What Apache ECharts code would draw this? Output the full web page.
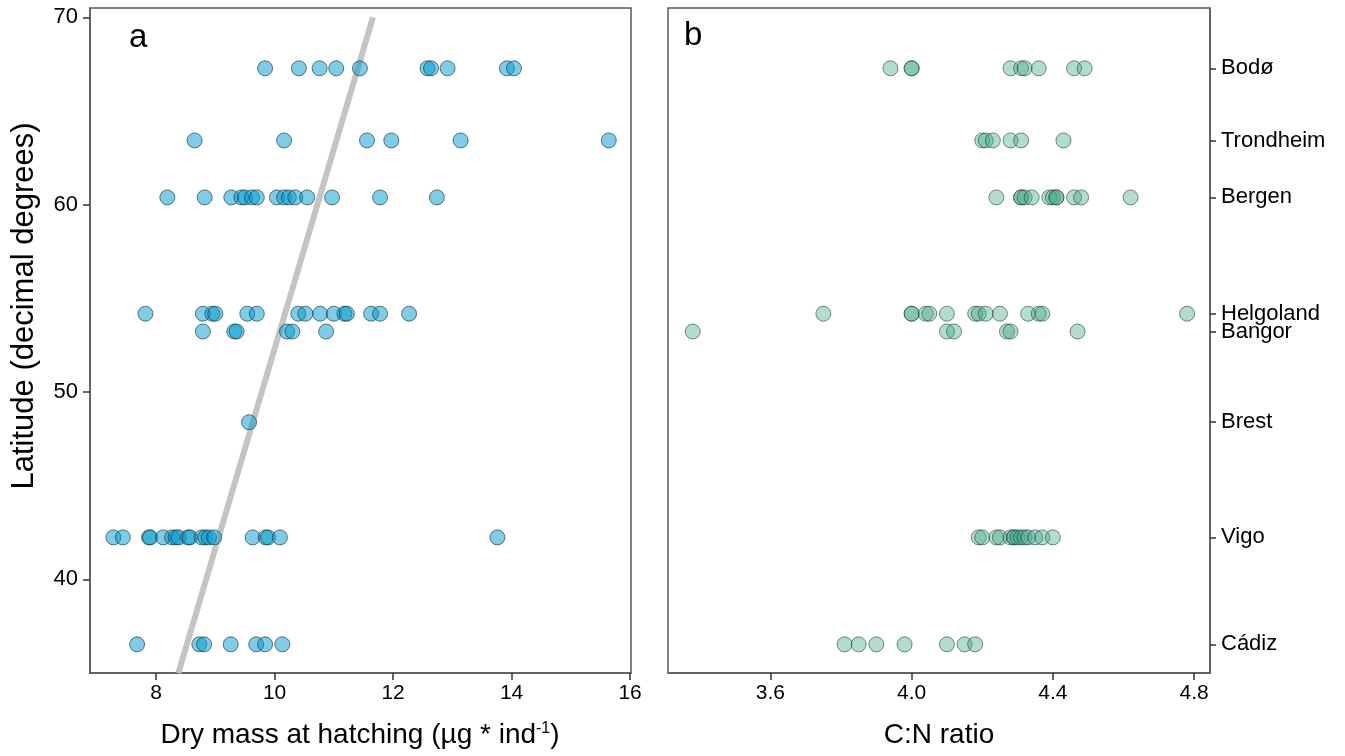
<!DOCTYPE html>
<html><head><meta charset="utf-8">
<script src="https://cdn.jsdelivr.net/npm/echarts@6/dist/echarts.min.js"></script>
<style>html,body{margin:0;padding:0;background:#fff}#c{width:1345px;height:756px}</style>
</head><body><div id="c"></div>
<script>
// ---- data ----
const sites = ['Cádiz', 'Vigo', 'Brest', 'Bangor', 'Helgoland', 'Bergen', 'Trondheim', 'Bodø'];
const siteLat = [36.53, 42.24, 48.39, 53.23, 54.18, 60.39, 63.43, 67.28];
const latTicks = [40, 50, 60, 70];
const dryTicks = [8, 10, 12, 14, 16];
const cnTicks = [3.6, 4.0, 4.4, 4.8];

// panel a: dry mass at hatching per site
const dryCadiz = [7.68, 8.73, 8.81, 9.26, 9.69, 9.84, 10.13];
const dryVigo = [7.28, 7.44, 7.88, 7.90, 8.12, 8.27, 8.33, 8.38, 8.54, 8.57, 8.77, 8.83, 8.89, 8.98, 9.63, 9.85, 9.89, 10.09, 13.76];
const dryBrest = [9.57];
const dryBangor = [8.79, 9.32, 9.36, 10.21, 10.30, 10.87];
const dryHelgoland = [7.82, 8.79, 8.95, 9.00, 9.54, 9.70, 10.40, 10.52, 10.77, 11.00, 11.18, 11.22, 11.63, 11.78, 12.27];
const dryBergen = [8.19, 8.82, 9.27, 9.44, 9.50, 9.62, 9.70, 10.04, 10.16, 10.24, 10.35, 10.55, 10.97, 11.78, 12.74];
const dryTrondheim = [8.65, 10.16, 11.56, 11.97, 13.14, 15.64];
const dryBodo = [9.84, 10.41, 10.76, 11.04, 11.44, 12.58, 12.64, 12.92, 13.92, 14.04];

// panel b: C:N ratio per site (no Brest data)
const cnCadiz = [3.81, 3.85, 3.90, 3.98, 4.10, 4.15, 4.18];
const cnVigo = [4.19, 4.20, 4.24, 4.25, 4.28, 4.29, 4.29, 4.30, 4.31, 4.32, 4.33, 4.35, 4.37, 4.40];
const cnBrest = [];
const cnBangor = [3.38, 4.10, 4.12, 4.27, 4.28, 4.47];
const cnHelgoland = [3.75, 4.00, 4.00, 4.04, 4.05, 4.10, 4.18, 4.19, 4.21, 4.25, 4.33, 4.36, 4.37, 4.78];
const cnBergen = [4.24, 4.31, 4.31, 4.32, 4.34, 4.39, 4.40, 4.41, 4.41, 4.46, 4.48, 4.62];
const cnTrondheim = [4.20, 4.21, 4.23, 4.28, 4.31, 4.43];
const cnBodo = [3.94, 4.00, 4.00, 4.28, 4.31, 4.32, 4.36, 4.46, 4.49];

// fitted line (panel a)
const trendDry = [8.376, 11.66];
const trendLat = [35, 70];

// ---- build ----
const dryBySite = [dryCadiz, dryVigo, dryBrest, dryBangor, dryHelgoland, dryBergen, dryTrondheim, dryBodo];
const cnBySite = [cnCadiz, cnVigo, cnBrest, cnBangor, cnHelgoland, cnBergen, cnTrondheim, cnBodo];
const ptsA = [], ptsB = [];
dryBySite.forEach((arr, i) => arr.forEach(v => ptsA.push([v, siteLat[i]])));
cnBySite.forEach((arr, i) => arr.forEach(v => ptsB.push([v, siteLat[i]])));
const trend = trendDry.map((v, i) => [v, trendLat[i]]);

const FONT = 'Liberation Sans, Arial, sans-serif';
const tickStyle = { color: '#333', width: 1.5 };
const frame = '#5a5a5a';

const chart = echarts.init(document.getElementById('c'), null, { renderer: 'canvas' });
chart.setOption({
  animation: false,
  backgroundColor: '#fff',
  textStyle: { fontFamily: FONT },
  grid: [
    { left: 90, top: 8, width: 541, height: 665, show: true, borderColor: frame, borderWidth: 1.5, containLabel: false },
    { left: 668, top: 8, width: 542, height: 665, show: true, borderColor: frame, borderWidth: 1.5, containLabel: false }
  ],
  xAxis: [
    { gridIndex: 0, type: 'value', min: 6.885, max: 16.015, splitLine: { show: false },
      axisLine: { show: true, onZero: false, lineStyle: { color: frame, width: 1.5 } },
      axisTick: { show: true, length: 7, lineStyle: tickStyle, customValues: dryTicks },
      axisLabel: { customValues: dryTicks, fontSize: 21, color: '#000', margin: 10, fontFamily: FONT } },
    { gridIndex: 1, type: 'value', min: 3.31, max: 4.845, splitLine: { show: false },
      axisLine: { show: true, onZero: false, lineStyle: { color: frame, width: 1.5 } },
      axisTick: { show: true, length: 7, lineStyle: tickStyle, customValues: cnTicks },
      axisLabel: { customValues: cnTicks, fontSize: 21, color: '#000', margin: 10, fontFamily: FONT,
        formatter: v => Number(v).toFixed(1) } }
  ],
  yAxis: [
    { gridIndex: 0, type: 'value', position: 'left', min: 35, max: 70.5, splitLine: { show: false },
      axisLine: { show: true, onZero: false, lineStyle: { color: frame, width: 1.5 } },
      axisTick: { show: true, length: 7, lineStyle: tickStyle, customValues: latTicks },
      axisLabel: { customValues: latTicks, fontSize: 22, color: '#000', margin: 12, fontFamily: FONT } },
    { gridIndex: 1, type: 'value', position: 'right', min: 35, max: 70.5, splitLine: { show: false },
      axisLine: { show: true, onZero: false, lineStyle: { color: frame, width: 1.5 } },
      axisTick: { show: true, length: 6, lineStyle: tickStyle, customValues: siteLat },
      axisLabel: { customValues: siteLat, fontSize: 22, color: '#000', margin: 11, fontFamily: FONT, hideOverlap: false,
        formatter: v => { let best = -1, d = 1e9; siteLat.forEach((s, i) => { const dd = Math.abs(s - v); if (dd < d) { d = dd; best = i; } }); return d < 0.05 ? sites[best] : ''; } } }
  ],
  series: [
    { type: 'line', xAxisIndex: 0, yAxisIndex: 0, data: trend, symbol: 'none', silent: true,
      lineStyle: { color: '#c4c4c4', width: 6 }, z: 1 },
    { type: 'scatter', xAxisIndex: 0, yAxisIndex: 0, data: ptsA, symbolSize: 15, silent: true, z: 2,
      itemStyle: { color: 'rgba(0,154,205,0.5)', borderColor: 'rgba(25,50,60,0.65)', borderWidth: 1, opacity: 1 } },
    { type: 'scatter', xAxisIndex: 1, yAxisIndex: 1, data: ptsB, symbolSize: 15, silent: true, z: 2,
      itemStyle: { color: 'rgba(65,167,137,0.4)', borderColor: 'rgba(35,65,55,0.6)', borderWidth: 1, opacity: 1 } }
  ],
  graphic: [
    { type: 'text', left: 129, top: 21, silent: true,
      style: { text: 'a', fontSize: 33, fontFamily: FONT, fill: '#000' } },
    { type: 'text', left: 684, top: 19, silent: true,
      style: { text: 'b', fontSize: 33, fontFamily: FONT, fill: '#000' } },
    { type: 'text', x: 24, y: 306, rotation: Math.PI / 2, silent: true,
      style: { text: 'Latitude (decimal degrees)', fontSize: 31, fontFamily: FONT, fill: '#000', align: 'center', verticalAlign: 'middle' } },
    { type: 'text', x: 360, y: 735, silent: true,
      style: { text: 'Dry mass at hatching (µg * ind{sup|-1})', fontSize: 28, fontFamily: FONT, fill: '#000', align: 'center', verticalAlign: 'middle',
        rich: { sup: { fontSize: 16, fontFamily: FONT, fill: '#000', verticalAlign: 'top', padding: [0, 0, 12, 0] } } } },
    { type: 'text', x: 939, y: 735, silent: true,
      style: { text: 'C:N ratio', fontSize: 28, fontFamily: FONT, fill: '#000', align: 'center', verticalAlign: 'middle' } }
  ]
});
</script></body></html>
